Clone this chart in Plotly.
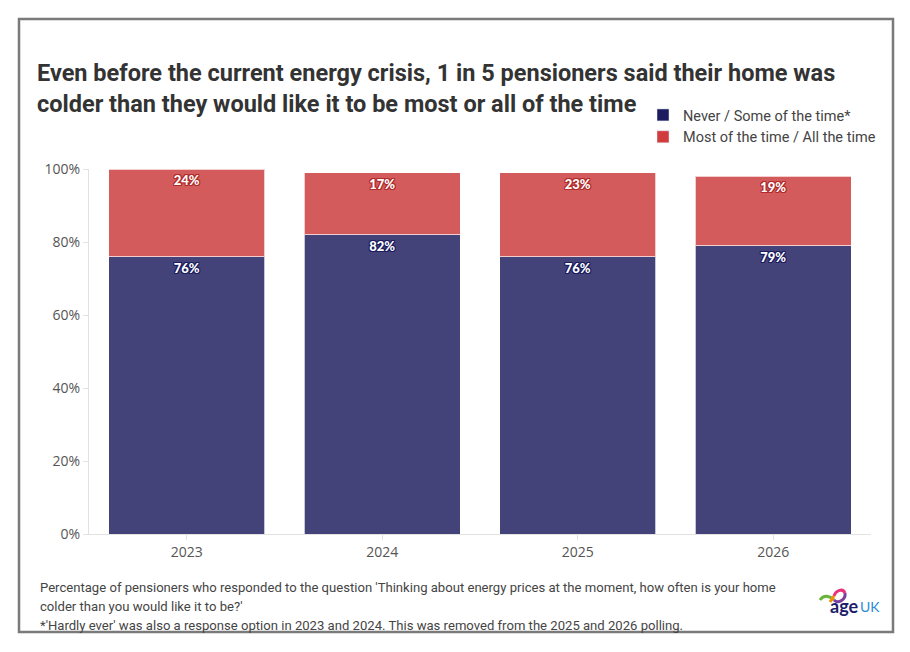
import plotly.graph_objects as go

years = ["2023", "2024", "2025", "2026"]
never_some = [76, 82, 76, 79]
most_all = [24, 17, 23, 19]
series_names = ["Never / Some of the time*", "Most of the time / All the time"]
y_ticks = [0, 20, 40, 60, 80, 100]

title = ("Even before the current energy crisis, 1 in 5 pensioners said their home was<br>"
         "colder than they would like it to be most or all of the time")
notes = [
    "Percentage of pensioners who responded to the question 'Thinking about energy prices at the moment, how often is your home",
    "colder than you would like it to be?'",
    "*'Hardly ever' was also a response option in 2023 and 2024. This was removed from the 2025 and 2026 polling.",
]

# the page adds an 8px body margin, so work in screen pixels and shift
OFF = 8
W, H = 910 - 2 * OFF, 652 - 2 * OFF
L, R, T, B = 89, 871, 169, 534   # plot area in screen pixels

def px(x):
    return (x - L) / (R - L)

def py(y):
    return (B - y) / (B - T)

navy_bar = "#43437a"
red_bar = "#d35b5c"
navy_key = "#1c1c5e"
red_key = "#d13c3d"
body_font = "Roboto"

def outline(c):
    return ", ".join(f"{dx}px {dy}px 0 {c}" for dx, dy in
                     [(1, 1), (-1, -1), (1, -1), (-1, 1), (0, 1), (1, 0), (0, -1), (-1, 0)])

fig = go.Figure()
fig.add_trace(go.Bar(
    x=years, y=never_some, name=series_names[0], showlegend=False,
    marker=dict(color=navy_bar, line=dict(color="rgba(255,255,255,0.7)", width=1)),
    text=[f"{v}%" for v in never_some], textposition="inside", insidetextanchor="end",
    textangle=0, constraintext="none",
    textfont=dict(family="Lato", size=13, weight=900, color="white", shadow=outline("#1c1c5e")),
))
fig.add_trace(go.Bar(
    x=years, y=most_all, name=series_names[1], showlegend=False,
    marker=dict(color=red_bar, line=dict(color="rgba(255,255,255,0.7)", width=1)),
    text=[f"{v}%" for v in most_all], textposition="inside", insidetextanchor="end",
    textangle=0, constraintext="none",
    textfont=dict(family="Lato", size=13, weight=900, color="white", shadow=outline("#b02a2a")),
))
# legend keys
for name, col in zip(series_names, [navy_key, red_key]):
    fig.add_trace(go.Bar(x=[None], y=[None], name=name, marker_color=col, showlegend=True))

fig.update_layout(
    width=W, height=H,
    margin=dict(l=L - OFF, r=W - (R - OFF), t=T - OFF, b=H - (B - OFF)),
    barmode="stack", bargap=0.2,
    paper_bgcolor="white", plot_bgcolor="white",
    font=dict(family=body_font, color="#444"),
    title=dict(text=title, x=(37 - OFF) / W, xanchor="left", y=1 - (81 - OFF) / H, yanchor="top",
               xref="container", yref="container",
               font=dict(family="Roboto", size=23.5, weight="bold", color="#333")),
    legend=dict(x=px(881), xanchor="right", y=py(99), yanchor="top", traceorder="normal",
                font=dict(family=body_font, size=14.5, color="#444"),
                bgcolor="rgba(0,0,0,0)", itemwidth=30, tracegroupgap=0),
    xaxis=dict(showline=True, linecolor="#e2e2e2", ticks="outside", ticklen=5, tickcolor="#e2e2e2",
               tickfont=dict(family="Open Sans", size=14, color="#555")),
    yaxis=dict(range=[0, 100], tickmode="array", tickvals=y_ticks,
               ticktext=[f"{v}%" for v in y_ticks],
               showgrid=False, zeroline=False, showline=True, linecolor="#e2e2e2",
               ticks="outside", ticklen=5, tickcolor="#e2e2e2",
               tickfont=dict(family="Open Sans", size=14, color="#555")),
)

for note, yy in zip(notes, [587, 606, 625]):
    fig.add_annotation(text=note, x=px(38), y=py(yy), xref="paper", yref="paper",
                       xanchor="left", yanchor="middle", showarrow=False,
                       font=dict(family=body_font, size=13.1, color="#444"))

# frame
fig.add_shape(type="rect", xref="paper", yref="paper",
              x0=px(19), x1=px(893), y0=py(632), y1=py(19),
              line=dict(color="#7a7a7a", width=2.5))

# age UK logo
fig.add_annotation(text="<b>age</b>", x=px(828), y=py(606), xref="paper", yref="paper",
                   xanchor="left", yanchor="middle", showarrow=False,
                   font=dict(family="Lato", size=18, color="#1d1d6b"))
fig.add_annotation(text="UK", x=px(858), y=py(606), xref="paper", yref="paper",
                   xanchor="left", yanchor="middle", showarrow=False,
                   font=dict(family="Lato", size=14, color="#2e8ad6"))
def p(x, y):
    return f"{px(x)},{py(y)}"
fig.add_shape(type="path", xref="paper", yref="paper",
              path=f"M {p(820,600)} C {p(824,594)} {p(830,596)} {p(834,600)}",
              line=dict(color="#6ab23e", width=3))
fig.add_shape(type="path", xref="paper", yref="paper",
              path=f"M {p(834,600)} C {p(838,604)} {p(846,600)} {p(845,593)}",
              line=dict(color="#7b3fa0", width=3))
fig.add_shape(type="path", xref="paper", yref="paper",
              path=f"M {p(845,593)} C {p(843,588)} {p(836,590)} {p(834,596)}",
              line=dict(color="#e8327c", width=3))
fig.add_shape(type="path", xref="paper", yref="paper",
              path=f"M {p(834,596)} L {p(830,602)}",
              line=dict(color="#f39200", width=3))

fig.write_html("out.html")
